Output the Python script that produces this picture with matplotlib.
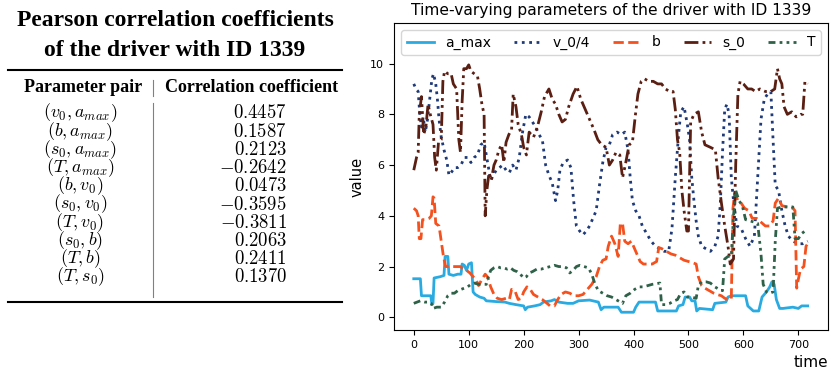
import matplotlib
matplotlib.use("Agg")
import matplotlib.pyplot as plt
from matplotlib.lines import Line2D
import numpy as np

# table on the left
pairs = [r"$(v_0, a_{max})$", r"$(b, a_{max})$", r"$(s_0, a_{max})$", r"$(T, a_{max})$",
         r"$(b, v_0)$", r"$(s_0, v_0)$", r"$(T, v_0)$", r"$(s_0, b)$", r"$(T, b)$", r"$(T, s_0)$"]
coefs = ["0.4457", "0.1587", "0.2123", "-0.2642", "0.0473", "-0.3595", "-0.3811", "0.2063", "0.2411", "0.1370"]

# time series
t_a_max = [0, 12, 14, 31, 33, 35, 37, 48, 55, 57, 62, 64, 72, 80, 86, 88, 92, 96, 100, 105, 108, 112, 120, 128, 132,
           150, 166, 174, 186, 200, 203, 207, 220, 230, 236, 250, 256, 264, 280, 290, 300, 320, 336, 341, 346, 372,
           378, 400, 404, 410, 440, 444, 478, 482, 490, 494, 502, 506, 512, 515, 520, 544, 548, 568, 572, 578, 604,
           608, 618, 628, 634, 642, 648, 652, 656, 660, 666, 672, 690, 700, 706, 717]
a_max = [1.52, 1.52, 0.85, 0.85, 0.5, 0.55, 1.55, 1.6, 1.65, 2.4, 2.4, 1.7, 1.65, 1.7, 1.7, 2.1, 2.05, 1.85, 2.1, 2.15,
         1.0, 0.9, 0.8, 0.75, 0.65, 0.62, 0.6, 0.55, 0.5, 0.45, 0.3, 0.4, 0.45, 0.5, 0.6, 0.65, 0.7, 0.6, 0.55, 0.55,
         0.65, 0.68, 0.6, 0.3, 0.4, 0.4, 0.2, 0.2, 0.4, 0.6, 0.6, 0.25, 0.25, 0.45, 0.5, 0.8, 0.8, 0.65, 0.65, 0.25,
         0.35, 0.3, 0.55, 0.6, 0.8, 0.85, 0.85, 0.45, 0.25, 0.25, 0.8, 1.0, 1.2, 1.4, 1.3, 0.7, 0.35, 0.35, 0.4, 0.35,
         0.45, 0.45]

t_v0 = [0, 4, 8, 11, 14, 17, 21, 25, 29, 33, 36, 40, 43, 46, 50, 55, 60, 64, 68, 74, 80, 86, 92, 98, 104, 110, 116,
        122, 128, 132, 136, 140, 145, 150, 156, 162, 168, 174, 180, 186, 192, 198, 204, 210, 216, 222, 228, 234, 240,
        246, 252, 258, 262, 266, 272, 280, 286, 291, 296, 302, 308, 314, 320, 326, 332, 338, 344, 350, 356, 362, 370,
        378, 384, 390, 394, 398, 404, 410, 416, 424, 432, 440, 448, 456, 464, 470, 476, 482, 486, 492, 498, 502, 506,
        510, 514, 518, 524, 532, 540, 548, 554, 558, 562, 566, 570, 574, 578, 582, 588, 596, 604, 612, 620, 626, 632,
        638, 644, 650, 654, 658, 664, 670, 676, 682, 690, 700, 708, 717]
v0_4 = [9.2, 9.0, 8.9, 8.0, 7.5, 7.9, 7.3, 7.8, 8.6, 9.4, 9.6, 9.2, 8.6, 7.8, 7.1, 6.6, 6.2, 5.6, 5.7, 5.9, 5.9, 6.0,
        6.3, 6.3, 6.1, 6.3, 6.4, 6.8, 6.9, 6.4, 5.9, 5.4, 5.6, 5.8, 5.9, 6.0, 5.8, 5.7, 6.0, 5.8, 6.3, 7.3, 8.0, 7.9,
        7.7, 7.5, 7.2, 7.0, 6.0, 5.6, 5.3, 4.6, 5.0, 5.8, 6.1, 6.2, 5.9, 4.6, 3.6, 3.4, 3.25, 3.4, 3.6, 3.9, 4.2, 5.2,
        6.1, 6.7, 6.8, 7.2, 7.3, 7.2, 7.3, 6.6, 5.5, 4.6, 4.2, 4.0, 3.6, 3.3, 3.0, 2.8, 2.7, 2.6, 2.6, 3.5, 5.5, 7.2,
        8.1, 8.3, 7.6, 7.0, 5.5, 4.6, 3.8, 3.2, 2.8, 2.7, 2.6, 2.8, 3.2, 4.5, 6.5, 8.2, 8.4, 8.0, 5.5, 4.6, 3.6, 3.5,
        3.1, 2.8, 3.2, 5.5, 7.8, 8.6, 8.8, 8.9, 7.0, 5.2, 5.0, 4.2, 3.6, 3.2, 3.0, 2.9, 2.9, 3.0]

t_b = [0, 5, 8, 10, 13, 16, 22, 28, 32, 35, 37, 40, 46, 50, 54, 58, 65, 75, 85, 90, 96, 102, 108, 113, 118, 124, 130,
       134, 140, 146, 152, 160, 168, 174, 178, 184, 190, 196, 200, 206, 212, 218, 226, 234, 240, 248, 256, 262, 268,
       276, 284, 292, 300, 308, 316, 324, 332, 338, 344, 350, 354, 360, 366, 372, 376, 380, 384, 390, 396, 400, 406,
       412, 418, 426, 434, 442, 446, 452, 460, 468, 476, 484, 492, 500, 508, 514, 518, 524, 530, 538, 546, 552, 560,
       566, 572, 578, 581, 584, 590, 596, 602, 610, 616, 624, 632, 640, 648, 654, 658, 664, 670, 680, 690, 694, 697,
       700, 704, 710, 714, 717]
b = [4.3, 4.2, 4.0, 3.1, 3.1, 3.85, 3.85, 3.9, 4.0, 4.75, 4.7, 3.7, 3.6, 3.0, 2.4, 2.0, 2.0, 2.0, 2.0, 1.9, 1.85,
     1.75, 1.6, 1.5, 1.25, 1.5, 1.7, 1.6, 1.2, 0.9, 0.75, 0.7, 0.75, 0.7, 1.1, 1.05, 0.7, 0.75, 1.0, 1.2, 1.1, 0.9,
     0.8, 0.7, 0.6, 0.45, 0.45, 0.7, 0.9, 1.0, 0.95, 0.85, 0.85, 0.9, 1.1, 1.3, 1.6, 2.0, 2.25, 2.3, 2.8, 3.2, 2.9,
     2.4, 3.7, 3.7, 3.0, 2.9, 3.0, 2.8, 2.5, 2.2, 2.1, 2.1, 2.1, 2.2, 2.75, 2.7, 2.6, 2.5, 2.45, 2.35, 2.25, 2.2,
     2.15, 2.1, 1.6, 1.25, 1.15, 1.05, 0.95, 0.9, 0.85, 0.75, 0.7, 0.72, 4.3, 4.9, 4.6, 4.5, 4.3, 4.2, 3.9, 3.9,
     3.75, 3.6, 3.6, 3.8, 4.5, 4.7, 4.4, 4.35, 4.3, 4.2, 1.15, 1.5, 1.9, 2.0, 2.8, 2.9]

t_s0 = [0, 5, 8, 10, 14, 18, 22, 26, 30, 35, 38, 41, 45, 50, 53, 56, 62, 68, 72, 78, 82, 85, 88, 91, 96, 100, 104,
        110, 116, 120, 124, 128, 130, 133, 137, 141, 146, 150, 155, 160, 164, 168, 173, 178, 181, 186, 190, 196, 200,
        205, 210, 218, 225, 232, 238, 246, 252, 258, 264, 270, 276, 282, 290, 297, 304, 312, 320, 328, 335, 342, 350,
        356, 362, 368, 375, 380, 385, 392, 398, 403, 408, 414, 420, 428, 436, 444, 451, 458, 466, 472, 476, 480, 484,
        488, 492, 497, 500, 504, 510, 518, 524, 530, 540, 549, 554, 560, 566, 572, 576, 582, 586, 590, 594, 600, 608,
        615, 622, 630, 640, 650, 657, 662, 666, 670, 674, 680, 688, 696, 704, 708, 712, 717]
s_0 = [5.8, 6.3, 6.5, 8.0, 8.7, 7.2, 7.5, 8.4, 8.0, 7.6, 6.3, 5.8, 6.9, 7.0, 9.3, 9.7, 9.6, 9.6, 9.2, 9.0, 7.0, 6.5,
       8.5, 9.8, 9.8, 9.95, 9.7, 9.6, 9.5, 9.0, 8.4, 8.0, 4.0, 5.0, 5.7, 5.4, 6.0, 6.2, 6.6, 6.8, 6.1, 6.9, 7.2, 7.4,
       8.8, 8.3, 7.6, 7.2, 6.7, 6.4, 7.3, 7.1, 7.5, 8.1, 8.7, 9.0, 8.6, 8.4, 8.0, 7.7, 7.8, 8.3, 8.8, 9.1, 8.6, 8.2,
       7.8, 7.4, 7.0, 6.8, 6.7, 6.0, 6.2, 6.5, 6.4, 5.5, 6.0, 6.8, 6.9, 7.9, 8.8, 9.3, 9.4, 9.3, 9.3, 9.2, 9.2, 9.0,
       8.9, 8.9, 8.2, 7.0, 6.5, 5.0, 4.2, 3.4, 3.4, 7.7, 8.0, 8.1, 7.3, 6.8, 6.7, 6.6, 5.5, 4.5, 3.6, 2.8, 2.1, 2.3,
       6.0, 8.8, 9.3, 9.2, 9.0, 9.0, 8.9, 9.0, 8.9, 8.9, 9.0, 9.8, 9.4, 9.2, 8.3, 8.0, 8.1, 7.9, 8.0, 8.0, 9.3, 9.2]

t_T = [0, 6, 12, 20, 28, 32, 35, 42, 50, 56, 62, 68, 74, 80, 86, 92, 98, 104, 110, 118, 126, 132, 136, 140, 146, 152,
       158, 164, 170, 176, 182, 188, 194, 200, 205, 210, 216, 224, 232, 240, 248, 256, 264, 272, 278, 284, 290, 296,
       302, 310, 318, 324, 330, 336, 344, 352, 360, 368, 376, 380, 386, 394, 402, 410, 418, 426, 434, 442, 448, 451,
       458, 466, 474, 480, 486, 492, 498, 506, 514, 518, 524, 532, 540, 548, 556, 562, 566, 572, 578, 582, 586, 592,
       598, 604, 612, 620, 626, 632, 636, 642, 648, 654, 658, 662, 670, 680, 690, 694, 700, 706, 712, 717]
T = [0.55, 0.6, 0.65, 0.6, 0.6, 0.55, 0.35, 0.4, 0.4, 0.6, 0.85, 0.95, 0.95, 1.05, 1.1, 1.15, 1.2, 1.3, 1.35, 1.3,
     1.3, 1.3, 1.6, 1.85, 1.95, 2.0, 1.95, 1.95, 1.9, 1.95, 1.85, 1.8, 1.7, 1.55, 1.6, 1.75, 1.8, 1.9, 1.9, 1.95, 2.0,
     2.05, 2.0, 2.0, 1.95, 1.75, 1.85, 2.0, 2.05, 2.0, 1.95, 1.7, 1.3, 1.05, 0.95, 0.85, 0.8, 0.7, 0.6, 0.55, 0.85,
     0.95, 1.1, 1.2, 1.2, 1.25, 1.3, 1.33, 1.35, 0.5, 0.5, 0.55, 0.65, 0.7, 0.95, 1.0, 0.8, 0.8, 0.75, 1.25, 1.4,
     1.4, 1.35, 1.2, 1.1, 1.05, 2.3, 2.4, 2.4, 4.0, 5.0, 4.6, 4.4, 3.85, 3.8, 3.75, 3.7, 2.5, 1.3, 1.0, 0.95, 1.0,
     3.0, 4.3, 4.35, 4.35, 4.35, 3.1, 3.1, 3.3, 3.4, 3.35]


def plot_driver_params():

    fig = plt.figure(figsize=(8.31, 3.70), dpi=100)
    W, H = 831.0, 370.0

    plt.rcParams['mathtext.fontset'] = 'cm'

    # ---- left: table drawn with text and rules
    serif = "Liberation Serif"
    fig.text(175 / W, 1 - 21 / H, "Pearson correlation coefficients", ha="center", va="center",
             family=serif, weight="bold", fontsize=17)
    fig.text(175 / W, 1 - 50 / H, "of the driver with ID 1339", ha="center", va="center",
             family=serif, weight="bold", fontsize=17)

    fig.add_artist(Line2D([8 / W, 342 / W], [1 - 70 / H, 1 - 70 / H], color="black", lw=1.5))
    fig.add_artist(Line2D([8 / W, 342 / W], [1 - 302 / H, 1 - 302 / H], color="black", lw=1.5))
    fig.add_artist(Line2D([153 / W, 153 / W], [1 - 80 / H, 1 - 96 / H], color="gray", lw=0.8))
    fig.add_artist(Line2D([153 / W, 153 / W], [1 - 103 / H, 1 - 297 / H], color="gray", lw=0.8))

    fig.text(83 / W, 1 - 88 / H, "Parameter pair", ha="center", va="center",
             family=serif, weight="bold", fontsize=13)
    fig.text(252 / W, 1 - 88 / H, "Correlation coefficient", ha="center", va="center",
             family=serif, weight="bold", fontsize=13)

    for i in range(len(pairs)):
        y = 1 - (113 + i * 18.2) / H
        fig.text(80 / W, y, pairs[i], ha="center", va="center", fontsize=13)
        fig.text(287 / W, y, "$" + coefs[i] + "$", ha="right", va="center", fontsize=13.5)

    # ---- right: time series
    ax = fig.add_axes([394 / W, 1 - 330 / H, (828 - 394) / W, (330 - 23) / H])

    ax.plot(t_a_max, a_max, color="#29abe2", lw=2, label="a_max")
    ax.plot(t_v0, v0_4, color="#1f3a78", lw=2, linestyle=":", label="v_0/4")
    ax.plot(t_b, b, color="#f4511e", lw=2, linestyle="--", label="b")
    ax.plot(t_s0, s_0, color="#5a1e12", lw=2, linestyle=(0, (5, 1.5, 1, 1.5, 1, 1.5)), label="s_0")
    ax.plot(t_T, T, color="#2e6148", lw=2, linestyle=(0, (2.5, 1.5, 1, 1.5, 1, 1.5)), label="T")

    ax.set_xlim(-36, 754)
    ax.set_ylim(-0.5, 11.6)
    ax.set_xticks(np.arange(0, 701, 100))
    ax.set_yticks(np.arange(0, 11, 2))
    ax.tick_params(labelsize=8)

    ax.set_title("Time-varying parameters of the driver with ID 1339", fontsize=11.2)
    ax.set_xlabel("time", fontsize=11, loc="right")
    ax.set_ylabel("value", fontsize=10.5)

    ax.legend(loc="upper left", ncol=5, mode="expand", bbox_to_anchor=(0, 0, 1, 1), fontsize=10)

    plt.savefig("out.png", dpi=100)
    print("saved out.png")


if __name__ == "__main__":
    plot_driver_params()
